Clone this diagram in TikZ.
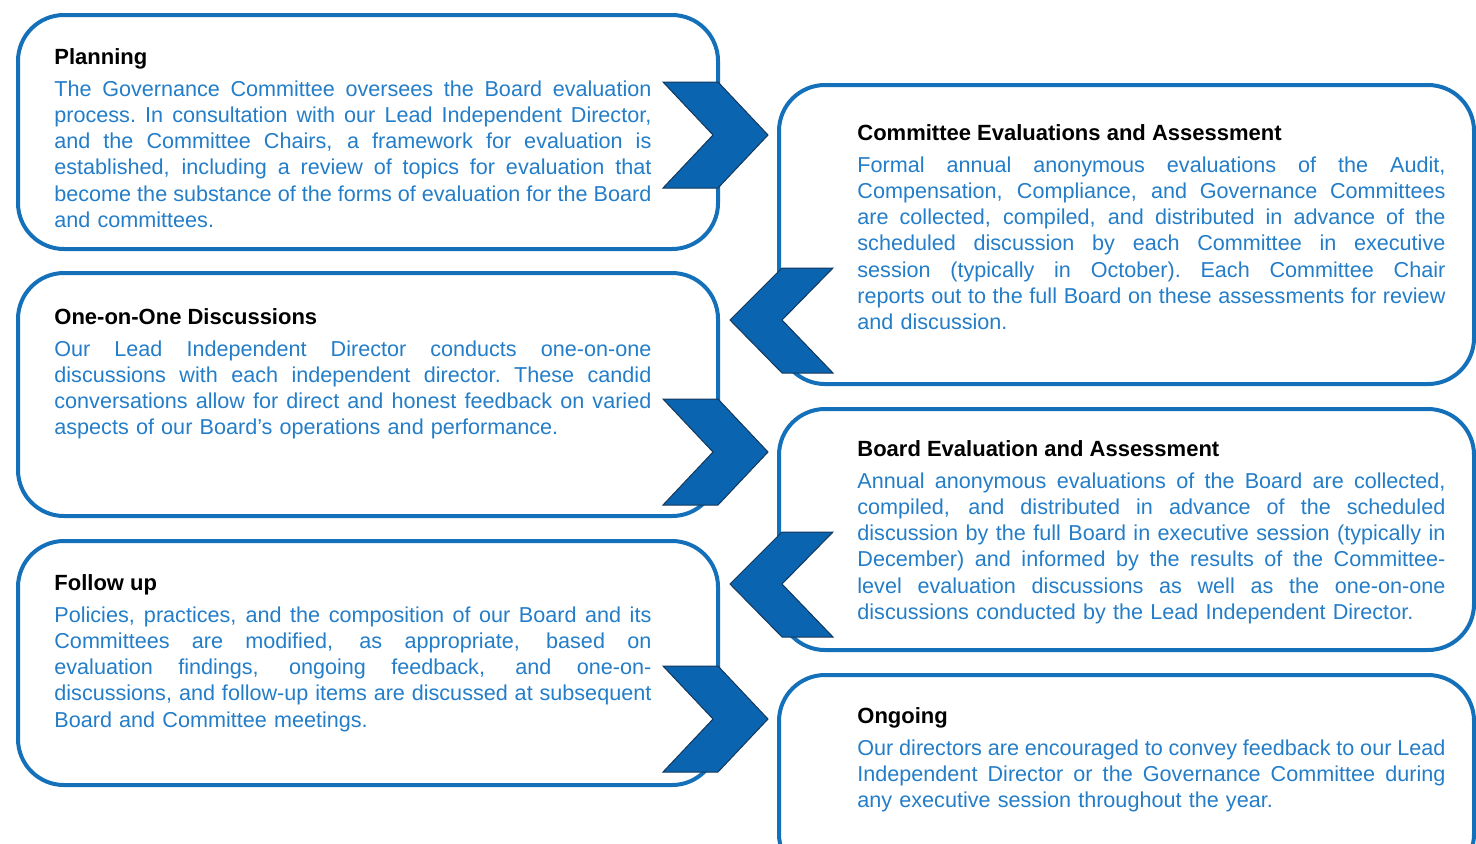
\documentclass[tikz,border=0pt]{standalone}
\usepackage{fontspec}
\setmainfont{Liberation Sans}
\usetikzlibrary{positioning}
\definecolor{boxblue}{RGB}{21,112,186}
\definecolor{chevblue}{RGB}{10,100,176}
\definecolor{chevedge}{RGB}{20,55,90}
\definecolor{txtblue}{RGB}{35,125,200}
% one justified line of body text
\newcommand\jline[1]{\hbox to\hsize{\spaceskip=0.278em plus 1fil minus 0.1em
  \xspaceskip=\spaceskip #1}}

\begin{document}
\begin{tikzpicture}[x=0.5pt,y=-0.5pt,
  box/.style={draw=boxblue,line width=2pt,rounded corners=23pt},
  chev/.style={fill=chevblue,draw=chevedge,line width=0.5pt},
  title/.style={anchor=base west,inner sep=0pt,font=\fontsize{11}{13.15}\selectfont\bfseries},
  body/.style={anchor=base west,inner sep=0pt,text=txtblue,font=\fontsize{10.8}{13.15}\selectfont},
  lbody/.style={body,text width=298.5pt},
  rbody/.style={body,text width=294pt}]
\useasboundingbox (0,0) rectangle (1476,843);
\clip (0,0) rectangle (1476,843);

% boxes
\draw[box] (18,15) rectangle (718,249);
\draw[box] (18,273) rectangle (718,516);
\draw[box] (18,541) rectangle (718,785);
\draw[box] (779,85) rectangle (1474,384);
\draw[box] (779,409) rectangle (1474,650);
\draw[box] (779,675) rectangle (1474,880);

% chevrons
\foreach \y in {82,399,666}
  \draw[chev] (663,\y) -- ++(55,0) -- ++(50,53) -- ++(-50,53) -- ++(-55,0) -- ++(50,-53) -- cycle;
\foreach \y in {268,532}
  \draw[chev] (833,\y) -- ++(-51,0) -- ++(-52,52) -- ++(52,53) -- ++(51,0) -- ++(-51,-53) -- cycle;

% left column
\path (54,64) node[title] (plantitle) {Planning}
  (54,96) node[lbody] (planbody) {%
\jline{The Governance Committee oversees the Board evaluation}
\jline{process. In consultation with our Lead Independent Director,}
\jline{and the Committee Chairs, a framework for evaluation is}
\jline{established, including a review of topics for evaluation that}
\jline{become the substance of the forms of evaluation for the Board}
and committees.};

\path (54,324) node[title] (onetitle) {One-on-One Discussions}
  (54,356) node[lbody] (onebody) {%
\jline{Our Lead Independent Director conducts one-on-one}
\jline{discussions with each independent director. These candid}
\jline{conversations allow for direct and honest feedback on varied}
aspects of our Board’s operations and performance.};

\path (54,590) node[title] (followtitle) {Follow up}
  (54,622) node[lbody] (followbody) {%
\jline{Policies, practices, and the composition of our Board and its}
\jline{Committees are modified, as appropriate, based on}
\jline{evaluation findings, ongoing feedback, and one-on-}
\jline{discussions, and follow-up items are discussed at subsequent}
Board and Committee meetings.};

% right column
\path (857,140) node[title] (comtitle) {Committee Evaluations and Assessment}
  (857,172) node[rbody] (combody) {%
\jline{Formal annual anonymous evaluations of the Audit,}
\jline{Compensation, Compliance, and Governance Committees}
\jline{are collected, compiled, and distributed in advance of the}
\jline{scheduled discussion by each Committee in executive}
\jline{session (typically in October). Each Committee Chair}
\jline{reports out to the full Board on these assessments for review}
and discussion.};

\path (857,456) node[title] (boardtitle) {Board Evaluation and Assessment}
  (857,488) node[rbody] (boardbody) {%
\jline{Annual anonymous evaluations of the Board are collected,}
\jline{compiled, and distributed in advance of the scheduled}
\jline{discussion by the full Board in executive session (typically in}
\jline{December) and informed by the results of the Committee-}
\jline{level evaluation discussions as well as the one-on-one}
discussions conducted by the Lead Independent Director.};

\path (857,723) node[title] (ongtitle) {Ongoing}
  (857,755) node[rbody] (ongbody) {%
\jline{Our directors are encouraged to convey feedback to our Lead}
\jline{Independent Director or the Governance Committee during}
any executive session throughout the year.};
\end{tikzpicture}
\end{document}
